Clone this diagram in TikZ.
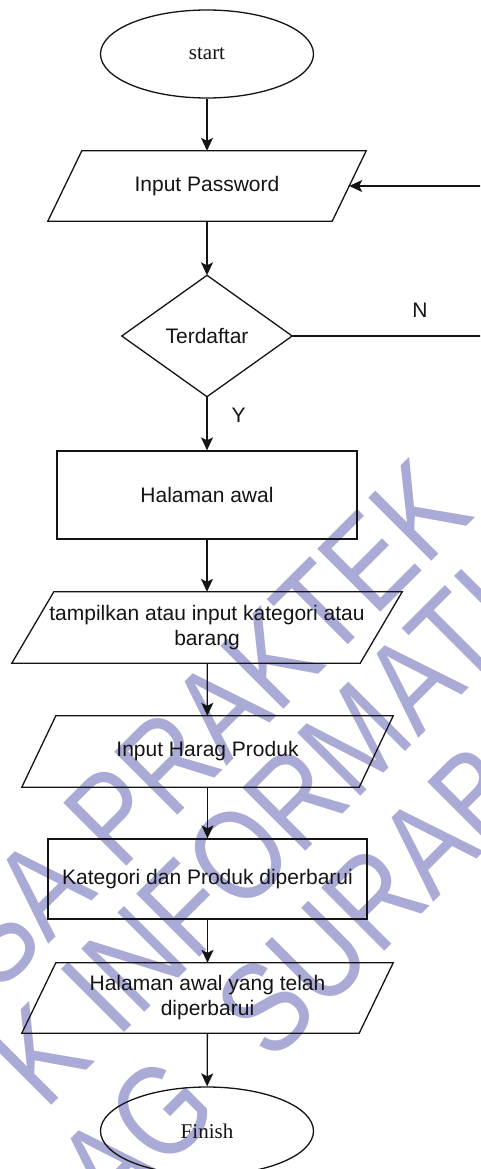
\documentclass[tikz,border=0pt]{standalone}
\usepackage{fontspec}
\setmainfont{Liberation Sans}
\newfontfamily\serifface{Liberation Serif}
\usetikzlibrary{shapes.geometric,arrows.meta,calc}
\definecolor{stamp}{RGB}{170,170,214}
\definecolor{ink}{RGB}{20,20,20}
% tall lettering for the background stamp
\newcommand{\stamptext}[1]{\scalebox{1}[1.2]{#1}}

\begin{document}
\begin{tikzpicture}[x=1pt,y=-1pt,
  every node/.style={font=\fontsize{21}{25}\selectfont, text=ink, inner sep=0pt},
  outline/.style={draw=ink, line width=1.3pt},
  conn/.style={draw=ink, line width=1.3pt, -{Stealth[length=13pt,width=12pt,inset=3pt]}},
  terminal/.style={ellipse, outline, minimum width=213pt, minimum height=88pt,
    font=\serifface\fontsize{21}{25}\selectfont},
  process/.style={rectangle, outline},
  iobox/.style={rectangle, align=center},
  wm/.style={text=stamp, font=\fontsize{108}{108}\selectfont, rotate=45, anchor=base west}]

\clip (0,0) rectangle (480,1169);
\fill[white] (0,0) rectangle (480,1169);

% background stamp lettering
\node[wm] (wm1) at (-3,996) {\stamptext{SA PRAKTEK}};
\node[wm] (wm2) at (45,1112) {\stamptext{K INFORMATI}};
\node[wm] (wm3) at (112,1224) {\stamptext{AG\hspace{40pt} SURABA}};

% flow nodes
\node[terminal] (start) at (207,54) {start};

\node[iobox, minimum width=318pt, minimum height=70pt] (pw) at (207,186) {Input Password};
\draw[outline] ($(pw.north west)+(34,0)$) -- (pw.north east) -- ($(pw.south east)+(-34,0)$) -- (pw.south west) -- cycle;
\coordinate (pwin) at ($(pw.east)+(-17,0)$);

\node[minimum width=170pt, minimum height=121pt] (dec) at (207,336) {Terdaftar};
\draw[outline] (dec.north) -- (dec.east) -- (dec.south) -- (dec.west) -- cycle;

\node[process, minimum width=300pt, minimum height=88pt] (home) at (207,495) {Halaman awal};

\node[iobox, minimum width=390pt, minimum height=71pt] (show) at (207,627.5)
  {tampilkan atau input kategori atau\\barang};
\draw[outline] ($(show.north west)+(42,0)$) -- (show.north east) -- ($(show.south east)+(-42,0)$) -- (show.south west) -- cycle;

\node[iobox, minimum width=371pt, minimum height=71pt] (price) at (207.5,751.5) {Input Harag Produk};
\draw[outline] ($(price.north west)+(34,0)$) -- (price.north east) -- ($(price.south east)+(-34,0)$) -- (price.south west) -- cycle;

\node[process, minimum width=319pt, minimum height=80pt] (upd) at (207.5,879) {Kategori dan Produk diperbarui};

\node[iobox, minimum width=371pt, minimum height=70pt] (newhome) at (207.5,998)
  {Halaman awal yang telah\\diperbarui};
\draw[outline] ($(newhome.north west)+(34,0)$) -- (newhome.north east) -- ($(newhome.south east)+(-34,0)$) -- (newhome.south west) -- cycle;

\node[terminal] (finish) at (207,1131) {Finish};

% connectors
\draw[conn] (start) -- (pw);
\draw[conn] (pw) -- (dec.north);
\draw[conn] (dec.south) -- (home) node[pos=0.35, right=24pt] (ylab) {Y};
\draw[conn] (home) -- (show);
\draw[conn] (show) -- (price);
\draw[conn] (price) -- (upd);
\draw[conn] (upd) -- (newhome);
\draw[conn] (newhome) -- (finish);

\coordinate (rail) at (497,0);
\draw[conn] (dec.east) -- (dec.east -| rail) |- (pwin);
\node (nlab) at (420,310) {N};
\end{tikzpicture}
\end{document}
